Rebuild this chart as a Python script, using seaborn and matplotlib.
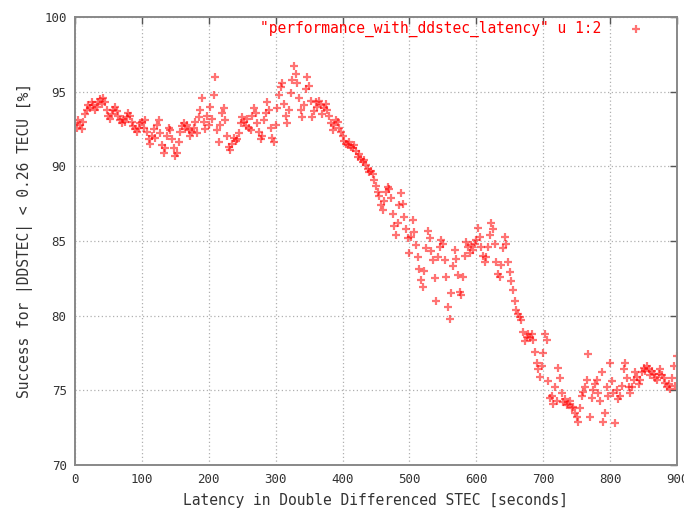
import numpy as np
import pandas as pd
import matplotlib
matplotlib.use("Agg")
import matplotlib.pyplot as plt
import seaborn as sns

# latency samples, 2.5 s apart (0 ... 897.5) plus the last point at 900
latency = list(np.arange(0, 900, 2.5)) + [900.0]

# success rate [%], one block per 100 s
success_000 = [92.9, 92.6, 93.1, 92.8, 92.5, 93.0, 93.5, 93.8, 94.1, 93.9,
               94.3, 94.1, 93.8, 94.0, 94.3, 94.5, 94.2, 94.6, 94.3, 93.8,
               93.4, 93.2, 93.5, 93.8, 94.0, 93.7, 93.4, 93.1, 92.9, 93.2,
               93.0, 93.3, 93.6, 93.4, 93.0, 92.7, 92.5, 92.3, 92.6, 92.9]
success_100 = [93.0, 92.6, 93.1, 92.3, 91.8, 91.5, 92.0, 92.5, 91.9, 92.8,
               93.1, 92.2, 91.4, 90.9, 91.2, 92.0, 92.6, 92.4, 91.8, 91.2,
               90.7, 90.9, 91.6, 92.3, 92.7, 92.9, 92.5, 92.8, 92.4, 92.0,
               92.3, 92.6, 93.0, 92.2, 93.3, 93.8, 94.6, 93.0, 92.5, 93.4]
success_200 = [92.8, 94.0, 93.2, 94.8, 96.0, 92.4, 91.6, 92.8, 93.6, 93.9,
               93.1, 92.0, 91.3, 91.1, 91.5, 91.9, 91.7, 91.8, 92.2, 92.9,
               93.3, 93.0, 92.7, 93.2, 92.6, 92.4, 93.4, 93.9, 93.6, 92.9,
               92.3, 91.8, 92.0, 93.1, 93.6, 94.3, 93.8, 92.6, 91.9, 91.6]
success_300 = [92.8, 93.9, 94.8, 95.3, 95.6, 94.2, 93.4, 92.9, 93.8, 94.9,
               95.8, 96.7, 96.2, 95.6, 94.6, 93.8, 93.3, 94.1, 95.2, 96.0,
               95.4, 94.4, 93.3, 93.7, 94.3, 94.0, 94.4, 94.1, 93.5, 93.9,
               94.2, 93.8, 93.4, 92.9, 92.4, 92.8, 93.1, 93.0, 92.6, 92.3]
success_400 = [92.0, 91.7, 91.5, 91.4, 91.6, 91.3, 91.2, 91.4, 91.0, 90.6,
               90.8, 90.5, 90.3, 90.4, 90.1, 89.8, 89.6, 89.7, 89.5, 89.1,
               88.7, 88.3, 88.0, 87.4, 87.1, 87.7, 88.3, 88.6, 88.5, 87.9,
               86.8, 86.0, 85.4, 86.2, 87.4, 88.2, 87.5, 86.6, 85.8, 85.2]
success_500 = [84.2, 85.3, 86.4, 85.6, 84.7, 83.9, 83.1, 82.4, 81.9, 83.0,
               84.5, 85.7, 85.2, 84.3, 83.7, 82.5, 81.0, 83.9, 84.6, 85.1,
               84.8, 83.7, 82.6, 80.6, 79.8, 81.5, 83.3, 84.4, 83.8, 82.7,
               81.6, 81.4, 82.6, 84.0, 84.9, 84.6, 84.2, 84.7, 84.4, 84.8]
success_600 = [85.1, 85.9, 85.3, 84.6, 84.0, 83.6, 83.9, 84.6, 85.4, 86.2,
               85.8, 84.8, 83.6, 82.8, 82.6, 83.4, 84.5, 85.3, 84.8, 83.6,
               82.9, 82.3, 81.7, 81.0, 80.4, 80.1, 79.9, 79.7, 78.9, 78.3,
               78.6, 78.8, 78.5, 78.8, 78.4, 77.6, 76.8, 76.4, 75.9, 76.6]
success_700 = [77.5, 78.8, 78.4, 75.6, 74.5, 74.6, 74.1, 75.2, 74.3, 76.5,
               75.8, 74.8, 74.2, 74.4, 74.0, 74.1, 74.3, 73.8, 73.9, 73.5,
               73.2, 72.9, 73.8, 74.6, 74.9, 75.2, 75.7, 77.4, 73.2, 74.5,
               75.0, 75.4, 75.7, 74.8, 74.3, 76.2, 72.9, 73.5, 75.2, 74.6]
success_800 = [76.8, 75.6, 74.8, 72.8, 75.0, 74.4, 74.6, 75.3, 76.4, 76.8,
               75.8, 75.2, 74.8, 75.2, 75.7, 76.2, 75.9, 75.4, 75.7, 76.2,
               76.5, 76.3, 76.6, 76.4, 76.0, 76.3, 76.1, 75.8, 75.7, 76.1,
               76.4, 76.0, 75.8, 75.5, 75.2, 75.4, 75.1, 75.8, 76.6, 75.3,
               77.3]

success = (success_000 + success_100 + success_200 + success_300 + success_400
           + success_500 + success_600 + success_700 + success_800)

df = pd.DataFrame({"latency": latency, "success": success})

sns.set_style("white")
plt.rcParams["font.family"] = ["DejaVu Sans Mono", "DejaVu Sans"]

fig = plt.figure(figsize=(6.84, 5.17), dpi=100)
ax = fig.add_axes([0.1096, 0.1006, 0.8802, 0.8665])

sns.scatterplot(data=df, x="latency", y="success", ax=ax, marker="+",
                color="#ff0000", s=40, linewidth=1.6, alpha=0.55, legend=False)

ax.set_xlim(0, 900)
ax.set_ylim(70, 100)
ax.set_xticks(range(0, 901, 100))
ax.set_yticks(range(70, 101, 5))
ax.grid(True, color="#b0b0b0", linestyle=(0, (1, 2)), linewidth=0.9)
ax.tick_params(direction="in", length=5, width=1, color="#555555",
               top=True, right=True, labelsize=9, labelcolor="#333333", pad=6)
for sp in ax.spines.values():
    sp.set_color("#888888")
    sp.set_linewidth(1.4)

ax.set_xlabel("Latency in Double Differenced STEC [seconds]", fontsize=10.5,
              color="#333333", labelpad=5)
ax.set_ylabel("Success for |DDSTEC| < 0.26 TECU [%]", fontsize=10.5,
              color="#333333", labelpad=8)

# gnuplot style key in the top right corner
ax.text(0.874, 0.973, '"performance_with_ddstec_latency" u 1:2',
        transform=ax.transAxes, ha="right", va="center", fontsize=10.5,
        color="#ff0000")
ax.scatter([0.932], [0.973], transform=ax.transAxes, marker="+", s=40,
           color="#ff0000", linewidths=1.6, alpha=0.55, clip_on=False)

fig.savefig("out.png", dpi=100)
